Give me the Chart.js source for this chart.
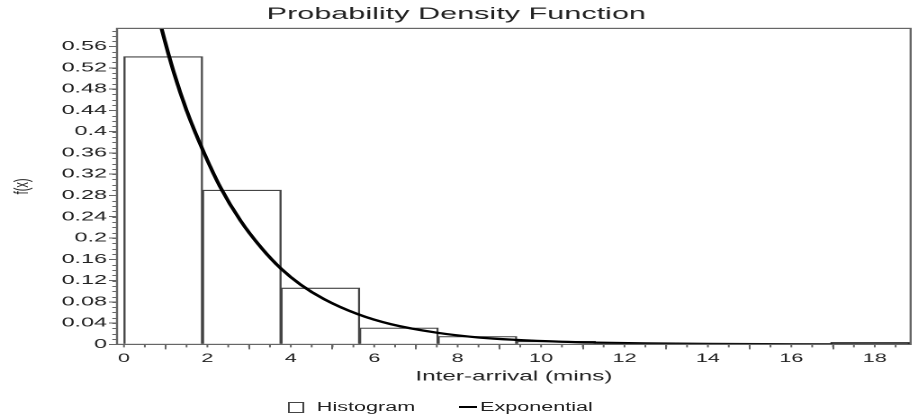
<!DOCTYPE html>
<html>
<head>
<meta charset="utf-8">
<script src="https://cdn.jsdelivr.net/npm/chart.js@4/dist/chart.umd.min.js"></script>
<style>
  html, body { margin: 0; padding: 0; background: #fff; overflow: hidden; }
  /* the original plot is stretched sideways, so draw narrow and widen it */
  #wrap { position: relative; width: 507px; height: 419px; transform: scaleX(1.8); transform-origin: 0 0; }
  #legend { position: absolute; left: 160px; top: 399px; height: 16px; display: flex; align-items: center;
            font: 12px 'Liberation Sans', Arial, sans-serif; color: #222; white-space: nowrap; }
  #legend .box { width: 7px; height: 9px; border: 1px solid #444; margin-right: 7px; }
  #legend .line { width: 10px; height: 0; border-top: 2px solid #000; margin-left: 24px; margin-right: 2px; }
</style>
</head>
<body>
<div id="wrap">
  <canvas id="pdfChart"></canvas>
  <div id="legend"></div>
</div>
<script>
// histogram bins (start of each bin, mins) and their density
const binStarts = [0, 1.883, 3.766, 5.649, 7.532, 9.415, 11.298, 13.181, 15.064, 16.947];
const binWidth = 1.883;
const binHeights = [0.541, 0.29, 0.106, 0.031, 0.015, 0.006, 0.002, 0.002, 0.001, 0.004];

// fitted exponential curve
const curveX = [0.6, 0.9, 1.2, 1.5, 1.88, 2.3, 2.8, 3.3, 3.77, 4.24, 4.8, 5.6, 6.4, 7.5, 8.5, 9.4, 10.5, 11.3, 12.5, 14, 16, 18.9];
const curveY = [0.69, 0.594, 0.51, 0.44, 0.367, 0.297, 0.232, 0.181, 0.142, 0.112, 0.085, 0.057, 0.038, 0.022, 0.013, 0.0085, 0.005, 0.0035, 0.002, 0.001, 0.0004, 0.0001];

const xMin = -0.167, xMax = 18.86, xStep = 2, xMinorStep = 0.5;
const yMin = 0, yMax = 0.594, yStep = 0.04, yMinorStep = 0.01;

const FONT = "'Liberation Sans', Arial, sans-serif";
const INK = '#222';
const FRAME = '#666';

// frame round the plot plus the small minor ticks
const framePlugin = {
    id: 'frame',
    afterDraw(chart) {
        const ctx = chart.ctx;
        const a = chart.chartArea;
        const xs = chart.scales.x, ys = chart.scales.y;
        ctx.save();
        ctx.strokeStyle = FRAME;
        ctx.lineWidth = 1.2;
        ctx.strokeRect(a.left, a.top, a.right - a.left, a.bottom - a.top);
        ctx.lineWidth = 1;
        ctx.beginPath();
        for (let v = yMin; v <= yMax + 1e-9; v += yMinorStep) {
            const p = Math.round(ys.getPixelForValue(v)) + 0.5;
            ctx.moveTo(a.left, p);
            ctx.lineTo(a.left - 2.6, p);
        }
        for (let v = 0; v <= xMax + 1e-9; v += xMinorStep) {
            const p = xs.getPixelForValue(v);
            ctx.moveTo(p, a.bottom);
            ctx.lineTo(p, a.bottom + 3);
        }
        ctx.stroke();
        ctx.restore();
    }
};

const histData = binStarts.map((s, i) => ({x: s + binWidth / 2, y: binHeights[i]}));
const curveData = curveX.map((x, i) => ({x: x, y: curveY[i]}));

const chart_config = {
    type: 'bar',
    data: {
        datasets: [{
            type: 'bar',
            label: 'Histogram',
            data: histData,
            backgroundColor: 'rgba(255,255,255,0)',
            borderColor: '#444',
            borderWidth: 0.55,
            barPercentage: 1,
            categoryPercentage: 1,
            order: 2
        }, {
            type: 'line',
            label: 'Exponential',
            data: curveData,
            borderColor: '#000',
            backgroundColor: '#000',
            borderWidth: 2.2,
            pointRadius: 0,
            cubicInterpolationMode: 'monotone',
            order: 1
        }]
    },
    options: {
        responsive: true,
        maintainAspectRatio: false,
        animation: false,
        devicePixelRatio: 2,
        layout: { padding: { left: 0, right: 0, top: 0, bottom: 29 } },
        plugins: {
            title: {
                display: true,
                text: 'Probability Density Function',
                color: INK,
                font: { family: FONT, size: 17, weight: 'normal' },
                padding: { top: 4, bottom: 4 }
            },
            legend: { display: false },
            tooltip: { enabled: false }
        },
        scales: {
            x: {
                type: 'linear',
                min: xMin,
                max: xMax,
                offset: false,
                grid: { drawOnChartArea: false, tickLength: 5, color: FRAME, tickColor: FRAME },
                border: { color: FRAME },
                ticks: {
                    stepSize: xStep,
                    includeBounds: false,
                    maxRotation: 0,
                    padding: 2,
                    color: INK,
                    font: { family: FONT, size: 12 }
                },
                title: {
                    display: true,
                    text: 'Inter-arrival (mins)',
                    color: INK,
                    font: { family: FONT, size: 13.5 },
                    padding: { top: 1, bottom: 5 }
                }
            },
            y: {
                min: yMin,
                max: yMax,
                grid: { drawOnChartArea: false, tickLength: 4.5, color: FRAME, tickColor: FRAME },
                border: { color: FRAME },
                ticks: {
                    stepSize: yStep,
                    includeBounds: false,
                    padding: 1,
                    color: INK,
                    font: { family: FONT, size: 13 },
                    callback: (v) => String(Number(v.toFixed(2)))
                },
                title: {
                    display: true,
                    text: 'f(x)',
                    color: INK,
                    font: { family: FONT, size: 11 },
                    padding: { top: 6, bottom: 14 }
                }
            }
        }
    },
    plugins: [framePlugin]
};

const myChart = new Chart(document.getElementById('pdfChart'), chart_config);

// legend built from the dataset labels
const legendEl = document.getElementById('legend');
myChart.data.datasets.forEach((ds) => {
    const mark = document.createElement('span');
    mark.className = ds.type === 'bar' ? 'box' : 'line';
    const txt = document.createElement('span');
    txt.textContent = ds.label;
    legendEl.appendChild(mark);
    legendEl.appendChild(txt);
});
</script>
</body>
</html>
